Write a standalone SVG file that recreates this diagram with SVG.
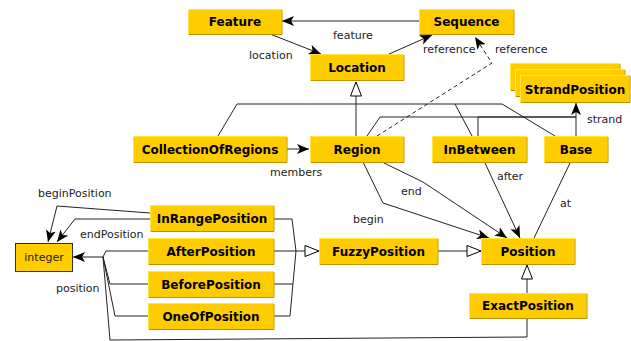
<svg xmlns="http://www.w3.org/2000/svg" width="631" height="341" viewBox="0 0 631 341">
<style>
.box{fill:#FFCC00;stroke:#FFE640;stroke-width:1}
.sh{fill:none;stroke:#B89200;stroke-width:1}
.t{font-family:"DejaVu Sans",sans-serif;font-size:12px;font-weight:bold;fill:#000;text-anchor:middle}
.lbl{font-family:"DejaVu Sans",sans-serif;font-size:11px;fill:#222}
.c{fill:none;stroke:#222;stroke-width:1}
.a{marker-end:url(#arr)}
.g{marker-end:url(#tri)}
</style>
<defs>
<marker id="arr" markerUnits="userSpaceOnUse" markerWidth="14" markerHeight="12" refX="12" refY="5" orient="auto"><path d="M0,0 L12,5 L0,10 L3,5 z" fill="#000"/></marker>
<marker id="tri" markerUnits="userSpaceOnUse" markerWidth="16" markerHeight="14" refX="15" refY="6.5" orient="auto"><path d="M1,1 L15,6.5 L1,12 z" fill="#fff" stroke="#000" stroke-width="1"/></marker>
</defs>
<g id="connectors">
<path class="c a" d="M419,21 L282,21"/>
<path class="c a" d="M270,34 L321,54"/>
<path class="c a" d="M387,55 L432,35"/>
<path class="c a" d="M377,136 L492,63 L475,37" stroke-dasharray="4,3"/>
<path class="c g" d="M356,136 L356,82" stroke-width="1.6"/>
<path class="c" d="M218,136 L237,104 L502,104 L555,136"/>
<path class="c" d="M472,136 L455,104"/>
<path class="c" d="M367,136 L380,117 L576,117"/>
<path class="c" d="M478,136 L478,117 L576,117" stroke-width="1.6"/>
<path class="c a" d="M576,136 L576,103"/>
<path class="c a" d="M286,149 L309,149"/>
<path class="c a" d="M363,162 L383,203 L489,238"/>
<path class="c a" d="M384,163 L423,182 L507,238"/>
<path class="c a" d="M485,163 L520,238"/>
<path class="c" d="M570,163 L534,238"/>
<path class="c g" d="M437,251 L481,251"/>
<path class="c g" d="M527,293 L527,265"/>
<path class="c" d="M273,219 L292,219 L296,251 L290,316 L273,316"/>
<path class="c" d="M273,284 L293,284"/>
<path class="c" d="M273,251 L296,251"/>
<path class="c g" d="M296,251 L319,251" stroke-width="1.6"/>
<path class="c" d="M148,251 L106,251 L103,257"/>
<path class="c" d="M148,284 L110,284 L103,257"/>
<path class="c" d="M148,316 L115,316 L103,257"/>
<path class="c" d="M527,318 L527,337 L110,340 L103,257"/>
<path class="c a" d="M103,257 L73,257" stroke-width="1.5"/>
<path class="c a" d="M150,213 L57,206 L48,242"/>
<path class="c a" d="M150,219 L75,219 L57,242"/>
<text class="lbl" x="333" y="39">feature</text>
<text class="lbl" x="249" y="59">location</text>
<text class="lbl" x="423" y="53">reference</text>
<text class="lbl" x="495" y="53">reference</text>
<text class="lbl" x="587" y="123">strand</text>
<text class="lbl" x="270" y="176">members</text>
<text class="lbl" x="401" y="195">end</text>
<text class="lbl" x="353" y="223">begin</text>
<text class="lbl" x="497" y="180">after</text>
<text class="lbl" x="560" y="207">at</text>
<text class="lbl" x="38" y="197">beginPosition</text>
<text class="lbl" x="80" y="238">endPosition</text>
<text class="lbl" x="56" y="292">position</text>
</g>
<g id="Feature"><rect class="box" x="188.5" y="9.5" width="93" height="25"/><path class="sh" d="M189,34.5 H282 V10"/><text class="t" x="235" y="26">Feature</text></g>
<g id="Sequence"><rect class="box" x="419.5" y="9.5" width="94" height="25"/><path class="sh" d="M420,34.5 H514 V10"/><text class="t" x="466.5" y="26">Sequence</text></g>
<g id="Location"><rect class="box" x="310.5" y="54.5" width="93" height="26"/><path class="sh" d="M311,80.5 H404 V55"/><text class="t" x="357" y="72">Location</text></g>
<g id="StrandPosition">
<rect class="box" x="510.5" y="63.5" width="109" height="27"/><path class="sh" d="M511,90.5 H620 V64"/>
<rect class="box" x="515.5" y="69.5" width="109" height="27"/><path class="sh" d="M516,96.5 H625 V70"/>
<rect class="box" x="520.5" y="75.5" width="109" height="27"/><path class="sh" d="M521,102.5 H630 V76"/>
<text class="t" x="575" y="93.5">StrandPosition</text></g>
<g id="CollectionOfRegions"><rect class="box" x="133.5" y="136.5" width="153" height="26"/><path class="sh" d="M134,162.5 H287 V137"/><text class="t" x="210" y="154">CollectionOfRegions</text></g>
<g id="Region"><rect class="box" x="310.5" y="136.5" width="93" height="26"/><path class="sh" d="M311,162.5 H404 V137"/><text class="t" x="357" y="154">Region</text></g>
<g id="InBetween"><rect class="box" x="432.5" y="136.5" width="94" height="26"/><path class="sh" d="M433,162.5 H527 V137"/><text class="t" x="479.5" y="154">InBetween</text></g>
<g id="Base"><rect class="box" x="544.5" y="136.5" width="63" height="26"/><path class="sh" d="M545,162.5 H608 V137"/><text class="t" x="576" y="154">Base</text></g>
<g id="InRangePosition"><rect class="box" x="150.5" y="205.5" width="123" height="26"/><path class="sh" d="M151,231.5 H274 V206"/><text class="t" x="212" y="223">InRangePosition</text></g>
<g id="AfterPosition"><rect class="box" x="148.5" y="238.5" width="125" height="26"/><path class="sh" d="M149,264.5 H274 V239"/><text class="t" x="211" y="256">AfterPosition</text></g>
<g id="BeforePosition"><rect class="box" x="148.5" y="271.5" width="125" height="26"/><path class="sh" d="M149,297.5 H274 V272"/><text class="t" x="211" y="289">BeforePosition</text></g>
<g id="OneOfPosition"><rect class="box" x="148.5" y="303.5" width="125" height="26"/><path class="sh" d="M149,329.5 H274 V304"/><text class="t" x="211" y="321">OneOfPosition</text></g>
<g id="integer"><rect x="15.5" y="243.5" width="57" height="28" fill="#FFCC00" stroke="#333" stroke-width="1"/><text class="lbl" x="44" y="261" text-anchor="middle" fill="#111">integer</text></g>
<g id="FuzzyPosition"><rect class="box" x="319.5" y="238.5" width="118" height="26"/><path class="sh" d="M320,264.5 H438 V239"/><text class="t" x="378.5" y="256">FuzzyPosition</text></g>
<g id="Position"><rect class="box" x="481.5" y="238.5" width="93" height="26"/><path class="sh" d="M482,264.5 H575 V239"/><text class="t" x="528" y="256">Position</text></g>
<g id="ExactPosition"><rect class="box" x="469.5" y="293.5" width="117" height="25"/><path class="sh" d="M470,318.5 H587 V294"/><text class="t" x="528" y="310">ExactPosition</text></g>
</svg>
